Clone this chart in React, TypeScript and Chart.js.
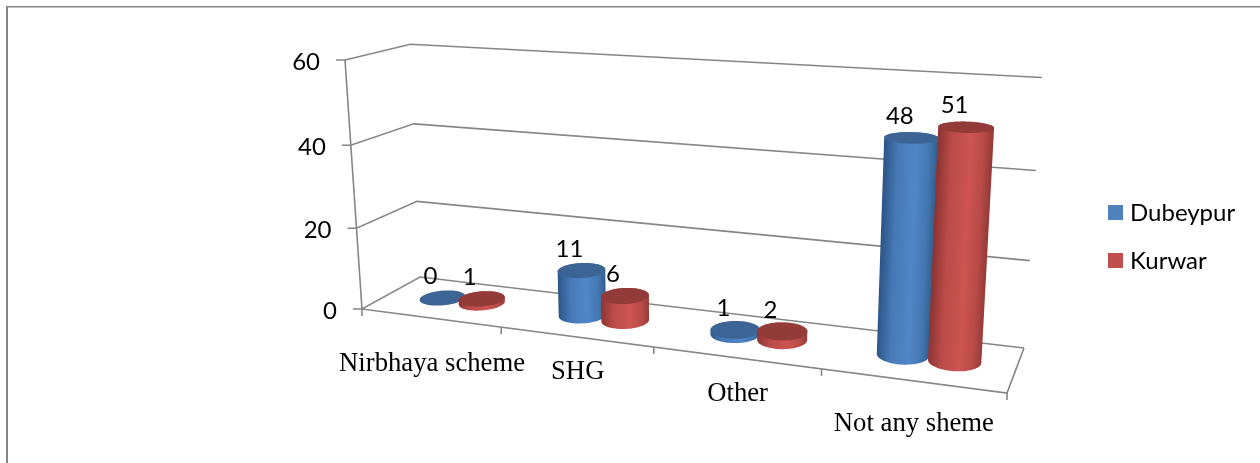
import React, { useEffect, useRef } from "react";
import { Chart, registerables } from "chart.js";

Chart.register(...registerables);

// Chart values
const categories = ["Nirbhaya scheme", "SHG", "Other", "Not any sheme"];
const dubeypur = [0, 11, 1, 48];
const kurwar = [1, 6, 2, 51];
const yTicks = [0, 20, 40, 60];

// Floor corners of the 3D box on screen, and the top of the near-left vertical edge
const FRONT_LEFT = [362, 309];
const FRONT_RIGHT = [1007, 393];
const BACK_RIGHT = [1024, 348];
const BACK_LEFT = [420, 277];
const AXIS_TOP = [345, 60];
const HEIGHT_PERSPECTIVE = -0.04;
const HEIGHT_SKEW = 6;

// Sideways nudge of the cylinders along the floor
const SLOT_SHIFT = 0.005;

// Downward shift of each category caption from the front edge of the floor
const captionDrop = [46, 35, 36, 43];

type Shade = { edgeL: string; mid: string; edgeR: string; top: string };
const SHADES: Record<string, Shade> = {
  blue: { edgeL: "#2c5687", mid: "#5087c8", edgeR: "#32608f", top: "#3c6494" },
  red: { edgeL: "#8c3533", mid: "#cd5451", edgeR: "#963b39", top: "#923b39" },
};

const SANS = "Lato, Carlito, sans-serif";
const SERIF = "'Liberation Serif', serif";
const GRID = "#868686";

type Pt = [number, number];

// Projective map from (along categories, depth, height) to canvas pixels
function makeProjection() {
  const [x0, y0] = FRONT_LEFT;
  const [x1, y1] = FRONT_RIGHT;
  const [x2, y2] = BACK_RIGHT;
  const [x3, y3] = BACK_LEFT;
  const dx1 = x1 - x2, dx2 = x3 - x2, sx = x0 - x1 + x2 - x3;
  const dy1 = y1 - y2, dy2 = y3 - y2, sy = y0 - y1 + y2 - y3;
  const den = dx1 * dy2 - dx2 * dy1;
  const g = (sx * dy2 - dx2 * sy) / den;
  const i = (dx1 * sy - sx * dy1) / den;
  const a = x1 - x0 + g * x1, b = x3 - x0 + i * x3;
  const d = y1 - y0 + g * y1, e = y3 - y0 + i * y3;
  const k = HEIGHT_PERSPECTIVE;
  const c = AXIS_TOP[0] * (1 + k) - x0;
  const f = AXIS_TOP[1] * (1 + k) - y0;
  return (u: number, v: number, h: number): Pt => {
    const w = g * u + i * v + k * h + 1;
    return [
      (a * u + b * v + c * h + x0) / w + h * (4 * v + 4 * u - 2 * u * v),
      (d * u + e * v + f * h + y0) / w + HEIGHT_SKEW * u * h,
    ];
  };
}

const project = makeProjection();

function polyline(ctx: CanvasRenderingContext2D, pts: Pt[]) {
  ctx.beginPath();
  pts.forEach((p, n) => (n ? ctx.lineTo(p[0], p[1]) : ctx.moveTo(p[0], p[1])));
}

function convexHull(points: Pt[]): Pt[] {
  const pts = [...points].sort((p, q) => p[0] - q[0] || p[1] - q[1]);
  const cross = (o: Pt, p: Pt, q: Pt) =>
    (p[0] - o[0]) * (q[1] - o[1]) - (p[1] - o[1]) * (q[0] - o[0]);
  const half = (list: Pt[]) => {
    const out: Pt[] = [];
    for (const p of list) {
      while (out.length >= 2 && cross(out[out.length - 2], out[out.length - 1], p) <= 0) out.pop();
      out.push(p);
    }
    out.pop();
    return out;
  };
  return [...half(pts), ...half([...pts].reverse())];
}

function mix(c1: string, c2: string, t: number) {
  const p = (c: string, s: number) => parseInt(c.slice(s, s + 2), 16);
  const ch = (s: number) => Math.round(p(c1, s) + (p(c2, s) - p(c1, s)) * t);
  return `rgb(${ch(1)},${ch(3)},${ch(5)})`;
}

function drawCylinder(
  ctx: CanvasRenderingContext2D,
  u: number,
  ru: number,
  h: number,
  shade: Shade
) {
  const vc = 0.52;
  const rv = 0.22;
  const N = 72;
  const ring = (hh: number) => {
    const out: Pt[] = [];
    for (let n = 0; n < N; n++) {
      const th = (n * 2 * Math.PI) / N;
      out.push(project(u + ru * Math.cos(th), vc + rv * Math.sin(th), hh));
    }
    return out;
  };
  const base = ring(0);
  const top = ring(h);

  if (h > 0) {
    const hull = convexHull([...base, ...top]);
    const bc = project(u, vc, 0);
    const tc = project(u, vc, h);
    const lean = (tc[0] - bc[0]) / (tc[1] - bc[1]);
    const xs = base.map((p) => p[0]);
    const left = Math.min(...xs);
    const right = Math.max(...xs);

    // Shading follows the lean of the body, so the dark edges stay on its sides
    ctx.save();
    polyline(ctx, hull);
    ctx.closePath();
    ctx.transform(1, 0, lean, 1, -lean * bc[1], 0);
    const grad = ctx.createLinearGradient(left, 0, right, 0);
    grad.addColorStop(0, shade.edgeL);
    grad.addColorStop(0.25, mix(shade.edgeL, shade.mid, 0.72));
    grad.addColorStop(0.6, shade.mid);
    grad.addColorStop(0.85, mix(shade.mid, shade.edgeR, 0.4));
    grad.addColorStop(1, shade.edgeR);
    ctx.fillStyle = grad;
    ctx.fill();
    ctx.restore();
  }

  polyline(ctx, top);
  ctx.closePath();
  ctx.fillStyle = shade.top;
  ctx.fill();
}

const App = () => {
  const ref = useRef<HTMLCanvasElement>(null);

  useEffect(() => {
    if (!ref.current) return;

    const scene = {
      id: "scene",
      beforeDatasetsDraw(chart: any) {
        const { ctx, chartArea: area, scales } = chart;
        const yScale = scales.y;
        const heightOf = (value: number) =>
          (area.bottom - yScale.getPixelForValue(value)) / area.height;
        const n = categories.length;

        ctx.save();
        // frame
        ctx.strokeStyle = GRID;
        ctx.lineWidth = 2;
        ctx.beginPath();
        ctx.moveTo(7, 463);
        ctx.lineTo(7, 6.5);
        ctx.stroke();
        ctx.lineWidth = 1.5;
        ctx.beginPath();
        ctx.moveTo(6, 6.7);
        ctx.lineTo(1260, 6.7);
        ctx.stroke();

        // walls, gridlines and value axis
        ctx.strokeStyle = GRID;
        ctx.lineWidth = 1.6;
        ctx.font = `24px ${SANS}`;
        ctx.textAlign = "right";
        ctx.textBaseline = "middle";
        yScale.ticks.forEach((t: any) => {
          const h = heightOf(t.value);
          const near = project(0, 0, h);
          polyline(ctx, [[near[0] - 9, near[1]], near, project(0, 1, h), project(1, 1, h)]);
          ctx.stroke();
          ctx.fillStyle = "#000";
          ctx.fillText(String(t.value), near[0] - 25, near[1] + 2);
        });
        polyline(ctx, [project(0, 0, 0), project(0, 0, 1)]);
        ctx.stroke();

        // floor edges and category ticks
        polyline(ctx, [project(0, 0, 0), project(1, 0, 0), project(1, 1, 0)]);
        ctx.stroke();
        for (let c = 0; c <= n; c++) {
          const p = project(c / n, 0, 0);
          polyline(ctx, [p, [p[0], p[1] + 7]]);
          ctx.stroke();
        }

        // category captions
        ctx.font = `26.7px ${SERIF}`;
        ctx.textAlign = "center";
        ctx.fillStyle = "#000";
        categories.forEach((label, c) => {
          const p = project((c + 0.5) / n, 0, 0);
          ctx.fillText(label, p[0] + 2, p[1] + captionDrop[c]);
        });

        // cylinders, category by category so the nearer series overlaps correctly
        const metas = chart.data.datasets.map((_: any, d: number) => chart.getDatasetMeta(d));
        const tops: { x: number; y: number; text: string }[] = [];
        for (let c = 0; c < n; c++) {
          metas.forEach((meta: any, d: number) => {
            const bar = meta.data[c];
            const u = (bar.x - area.left) / area.width + SLOT_SHIFT;
            const ru = bar.width / 2 / area.width;
            const h = (bar.base - bar.y) / area.height;
            drawCylinder(ctx, u, ru, h, d === 0 ? SHADES.blue : SHADES.red);
            const p = project(u, 0.5, h);
            tops.push({ x: p[0], y: p[1], text: String(chart.data.datasets[d].data[c]) });
          });
        }

        // value labels
        ctx.font = `24px ${SANS}`;
        ctx.fillStyle = "#000";
        tops.forEach((t) => ctx.fillText(t.text, t.x - 11, t.y - 22));

        // legend
        ctx.textAlign = "left";
        chart.data.datasets.forEach((ds: any, d: number) => {
          const y = 205 + d * 48;
          ctx.fillStyle = ds.backgroundColor;
          ctx.fillRect(1108, y, 15, 15);
          ctx.fillStyle = "#000";
          ctx.fillText(ds.label, 1130, y + 8);
        });
        ctx.restore();
        return false;
      },
    };

    const chart = new Chart(ref.current, {
      type: "bar",
      data: {
        labels: categories,
        datasets: [
          { label: "Dubeypur", data: dubeypur, backgroundColor: "#4f81bd" },
          { label: "Kurwar", data: kurwar, backgroundColor: "#c0504d" },
        ],
      },
      options: {
        responsive: false,
        animation: false,
        layout: { padding: { left: 360, right: 250, top: 60, bottom: 150 } },
        datasets: { bar: { categoryPercentage: 0.58, barPercentage: 1 } },
        plugins: { legend: { display: false }, tooltip: { enabled: false } },
        scales: {
          x: { display: false },
          y: {
            display: false,
            min: yTicks[0],
            max: yTicks[yTicks.length - 1],
            ticks: { stepSize: yTicks[1] - yTicks[0] },
          },
        },
      },
      plugins: [scene],
    } as any);

    return () => chart.destroy();
  }, []);

  return (
    <canvas
      ref={ref}
      width={1260}
      height={463}
      style={{ position: "absolute", left: 0, top: 0, display: "block" }}
    />
  );
};

export default App;
